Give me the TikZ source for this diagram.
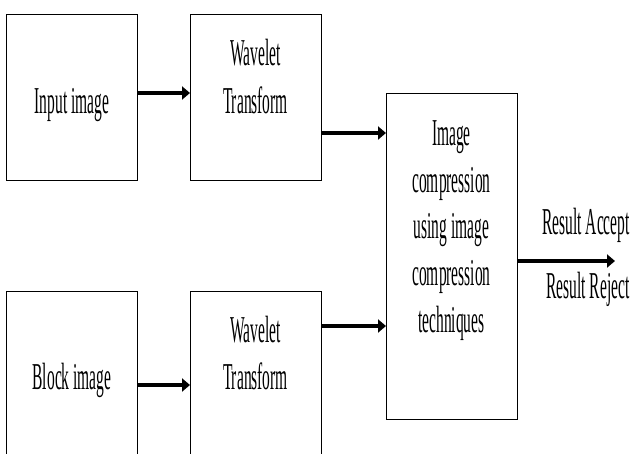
\documentclass[tikz,border=0pt]{standalone}
\usepackage{fontspec}
\setmainfont{Liberation Serif}
\usetikzlibrary{arrows.meta}
\newcommand{\stx}[1]{\scalebox{1}[2.45]{#1}}
\tikzset{
  blk/.style={draw=black, line width=1.3pt, minimum width=131pt, inner sep=0pt, anchor=north west},
  lbl/.style={anchor=base, inner sep=0pt, font=\fontsize{15.5}{18}\selectfont},
  arr/.style={line width=3.6pt, -{Triangle[length=8pt,width=13pt]}}
}
\begin{document}
\begin{tikzpicture}[x=1pt,y=-1pt]
\useasboundingbox (0,0) rectangle (631,453);
\clip (0,0) rectangle (631,453);
% boxes
\node[blk, minimum height=166pt] (b1) at (6,14) {};
\node[blk, minimum height=166pt] (b2) at (190,14) {};
\node[blk, minimum height=180pt] (b3) at (6,291) {};
\node[blk, minimum height=180pt] (b4) at (190,291) {};
\node[blk, minimum height=326pt] (b5) at (386,93) {};
% texts
\node[lbl] (t1) at (72,113) {\stx{Input image}};
\node[lbl] (t2a) at (255.5,65) {\stx{Wavelet}};
\node[lbl] (t2b) at (255.5,113) {\stx{Transform}};
\node[lbl] (t3) at (72,389) {\stx{Block image}};
\node[lbl] (t4a) at (255.5,342) {\stx{Wavelet}};
\node[lbl] (t4b) at (255.5,389) {\stx{Transform}};
\node[lbl] (t5a) at (451.5,145) {\stx{Image}};
\node[lbl] (t5b) at (451.5,192) {\stx{compression}};
\node[lbl] (t5c) at (451.5,238) {\stx{using image}};
\node[lbl] (t5d) at (451.5,285) {\stx{compression}};
\node[lbl] (t5e) at (451.5,332) {\stx{techniques}};
\node[lbl] (ra) at (586,234) {\stx{Result Accept}};
\node[lbl] (rr) at (588,298) {\stx{Result Reject}};
\coordinate (out) at (615,261);
% arrows
\draw[arr] (b1.east |- 0,93) -- (b2.west |- 0,93);
\draw[arr] (b2.east |- 0,133) -- (b5.west |- 0,133);
\draw[arr] (b3.east |- 0,385) -- (b4.west |- 0,385);
\draw[arr] (b4.east |- 0,326) -- (b5.west |- 0,326);
\draw[arr] (b5.east |- out) -- (out);
\end{tikzpicture}
\end{document}
